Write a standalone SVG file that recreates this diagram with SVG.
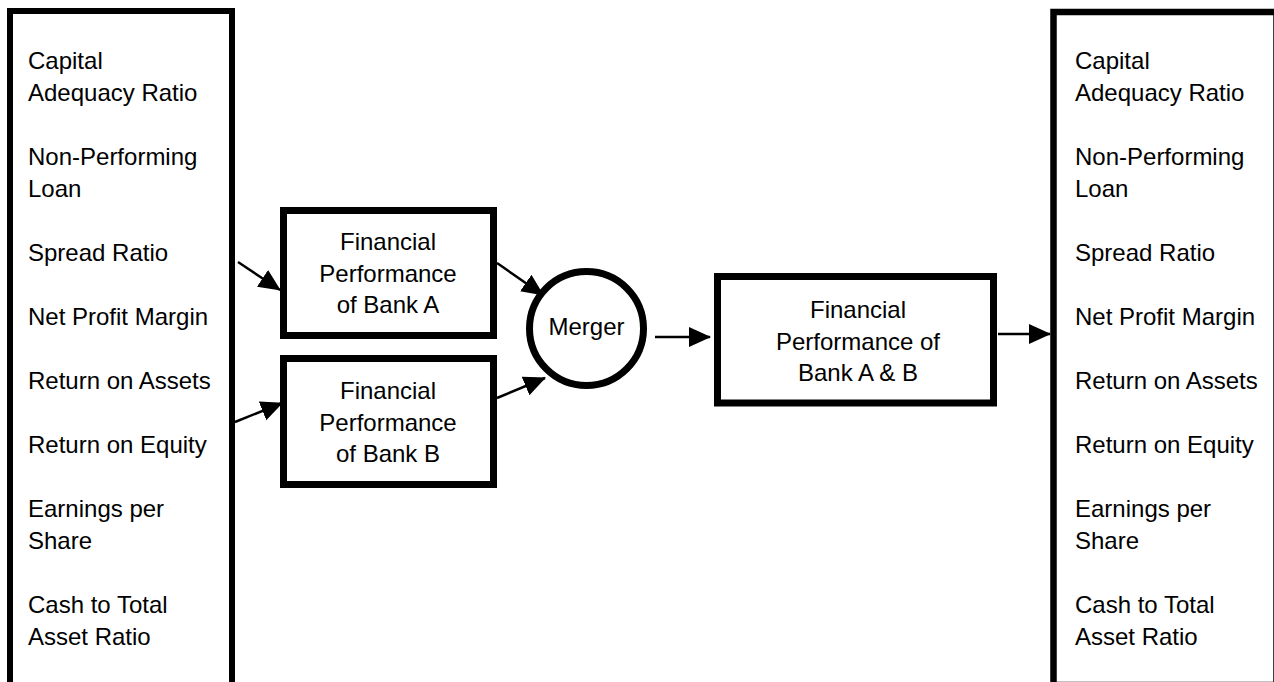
<svg xmlns="http://www.w3.org/2000/svg" width="1274" height="682" viewBox="0 0 1274 682">
<style>
.box{fill:#fff;stroke:#000;stroke-width:7}
.t{font-family:"Liberation Sans",Arial,sans-serif;font-size:24px;fill:#000}
.c{text-anchor:middle}
.conn line{stroke:#000;stroke-width:2.5}
</style>
<defs>
<marker id="ah" markerUnits="userSpaceOnUse" markerWidth="22" markerHeight="22" viewBox="0 0 22 22" refX="21" refY="11" orient="auto">
<path d="M0,1 L22,11 L0,21 Z" fill="#000"/>
</marker>
</defs>
<rect width="1274" height="682" fill="#fff"/>
<g id="left-list">
<rect class="box" x="10" y="11" width="222" height="674" style="stroke-width:6"/>
<text class="t" x="28" y="69">Capital</text>
<text class="t" x="28" y="101">Adequacy Ratio</text>
<text class="t" x="28" y="165">Non-Performing</text>
<text class="t" x="28" y="197">Loan</text>
<text class="t" x="28" y="261">Spread Ratio</text>
<text class="t" x="28" y="325">Net Profit Margin</text>
<text class="t" x="28" y="389">Return on Assets</text>
<text class="t" x="28" y="453">Return on Equity</text>
<text class="t" x="28" y="517">Earnings per</text>
<text class="t" x="28" y="549">Share</text>
<text class="t" x="28" y="613">Cash to Total</text>
<text class="t" x="28" y="645">Asset Ratio</text>
</g>
<g id="bank-a">
<rect class="box" x="283.5" y="210.5" width="210" height="125"/>
<text class="t c" x="388" y="250">Financial</text>
<text class="t c" x="388" y="282">Performance</text>
<text class="t c" x="388" y="313">of Bank A</text>
</g>
<g id="bank-b">
<rect class="box" x="283.5" y="358.5" width="210" height="126"/>
<text class="t c" x="388" y="399">Financial</text>
<text class="t c" x="388" y="431">Performance</text>
<text class="t c" x="388" y="462">of Bank B</text>
</g>
<g id="merger">
<circle cx="586.5" cy="328.5" r="57" fill="#fff" stroke="#000" stroke-width="7"/>
<text class="t c" x="586.5" y="335">Merger</text>
</g>
<g id="bank-ab">
<rect class="box" x="717.5" y="276.5" width="276" height="126.5"/>
<text class="t c" x="858" y="318">Financial</text>
<text class="t c" x="858" y="350">Performance of</text>
<text class="t c" x="858" y="381">Bank A &amp; B</text>
</g>
<g id="right-list">
<rect class="box" x="1053.5" y="12" width="223" height="673" style="stroke-width:6.5"/>
<text class="t" x="1075" y="69">Capital</text>
<text class="t" x="1075" y="101">Adequacy Ratio</text>
<text class="t" x="1075" y="165">Non-Performing</text>
<text class="t" x="1075" y="197">Loan</text>
<text class="t" x="1075" y="261">Spread Ratio</text>
<text class="t" x="1075" y="325">Net Profit Margin</text>
<text class="t" x="1075" y="389">Return on Assets</text>
<text class="t" x="1075" y="453">Return on Equity</text>
<text class="t" x="1075" y="517">Earnings per</text>
<text class="t" x="1075" y="549">Share</text>
<text class="t" x="1075" y="613">Cash to Total</text>
<text class="t" x="1075" y="645">Asset Ratio</text>
</g>
<g id="connectors" class="conn">
<line x1="238" y1="262" x2="280" y2="290" marker-end="url(#ah)"/>
<line x1="235" y1="422" x2="282" y2="403" marker-end="url(#ah)"/>
<line x1="497" y1="263" x2="543" y2="295" marker-end="url(#ah)"/>
<line x1="497" y1="398" x2="545" y2="378" marker-end="url(#ah)"/>
<line x1="655" y1="337" x2="710" y2="337" marker-end="url(#ah)"/>
<line x1="998" y1="334" x2="1050" y2="334" marker-end="url(#ah)"/>
</g>
</svg>
